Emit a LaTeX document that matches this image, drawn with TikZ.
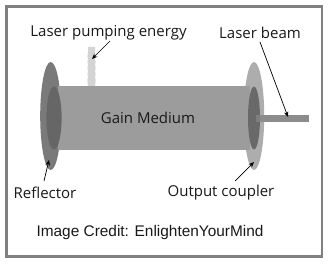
\documentclass[tikz,border=0pt]{standalone}
\usepackage{fontspec}
\setmainfont{Open Sans}
\newfontfamily\creditfont{Liberation Sans}
\usetikzlibrary{arrows.meta}
\definecolor{framegray}{gray}{0.5}
\definecolor{bodygray}{gray}{0.61}
\definecolor{refldisc}{gray}{0.48}
\definecolor{reflcore}{gray}{0.4}
\definecolor{outdisc}{gray}{0.68}
\definecolor{outcore}{gray}{0.41}
\definecolor{beamgray}{gray}{0.55}
\definecolor{pumpgray}{gray}{0.83}
\definecolor{inkgray}{gray}{0.1}
\tikzset{
  label text/.style={text=inkgray,font=\fontsize{15}{17}\selectfont,inner sep=0pt,anchor=center},
  pointer/.style={draw=black,line width=0.7pt,-{Stealth[length=5.5pt,width=4.5pt]}},
}
\begin{document}
\begin{tikzpicture}[x=1pt,y=-1pt]
  \useasboundingbox (0,0) rectangle (328,264);
  \fill[white] (0,0) rectangle (328,264);
  \draw[framegray,line width=2.5pt] (6.6,6.5) rectangle (322,256.5);

  % pump stem with its ribbed outline
  \fill[pumpgray] (88,47) -- (95,47) -- (95,53) -- (95.6,56) -- (95,59) -- (95.6,62) -- (95,65)
    -- (95.6,68) -- (95,71) -- (95.6,74) -- (95,77) -- (95.6,80) -- (95,87) -- (88,87)
    -- (87.4,80) -- (88,77) -- (87.4,74) -- (88,71) -- (87.4,68) -- (88,65) -- (87.4,62)
    -- (88,59) -- (87.4,56) -- (88,53) -- cycle;

  % reflector disc, gain medium, output coupler
  \fill[refldisc] (50.7,116) ellipse [x radius=10.5,y radius=54];
  \fill[outdisc] (254,116) ellipse [x radius=10.2,y radius=54];
  \fill[bodygray] (58,86.5) rectangle (250,149.5);
  \fill[reflcore] (54,118) ellipse [x radius=7.6,y radius=31.5];
  \fill[beamgray] (256,115) rectangle (309,121.7);
  \fill[outcore] (254,118) ellipse [x radius=6,y radius=31.5];
  \fill[beamgray,opacity=0.6] (256,115) rectangle (260,121.7);

  % free ends of the pointers
  \coordinate (pumpStart) at (110,41);
  \coordinate (pumpTip) at (92,59);
  \coordinate (beamStart) at (260,42);
  \coordinate (beamTip) at (288,117);
  \coordinate (reflStart) at (44,181);
  \coordinate (reflTip) at (49,160);
  \coordinate (outStart) at (235,181);
  \coordinate (outTip) at (254,162);

  \node[label text] (pumpLabel) at (108.5,32.5) {Laser pumping energy};
  \node[label text] (beamLabel) at (260,32.5) {Laser beam};
  \node[label text] (gainLabel) at (148,118) {Gain Medium};
  \node[label text] (reflLabel) at (45,192.5) {Reflector};
  \node[label text] (outLabel) at (221,192.5) {Output coupler};
  \node[text=inkgray,font=\creditfont\fontsize{15.4}{17}\selectfont,inner sep=0pt] (credit) at (150,232.5) {Image Credit: EnlightenYourMind};

  \draw[pointer] (pumpStart) -- (pumpTip);
  \draw[pointer] (beamStart) -- (beamTip);
  \draw[pointer] (reflStart) -- (reflTip);
  \draw[pointer] (outStart) -- (outTip);
\end{tikzpicture}
\end{document}
